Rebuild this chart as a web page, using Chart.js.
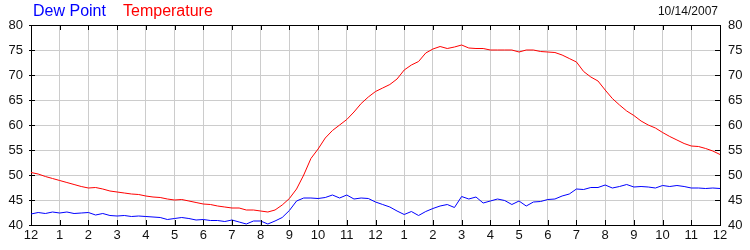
<!DOCTYPE html>
<html>
<head>
<meta charset="utf-8">
<script src="https://cdn.jsdelivr.net/npm/chart.js@4"></script>
<style>
  body { margin: 0; background: #fff; }
  #wrap { position: relative; width: 750px; height: 250px; }
  .lbl { position: absolute; font-family: "Liberation Sans", Arial, sans-serif; white-space: nowrap; }
</style>
</head>
<body>
<div id="wrap">
  <canvas id="weather-chart" width="750" height="250"></canvas>
  <span class="lbl" style="left:33px; top:2px; font-size:16px; color:#0000ff;">Dew Point</span>
  <span class="lbl" style="left:123px; top:2px; font-size:16px; color:#ff0000;">Temperature</span>
  <span class="lbl" style="right:32px; top:4px; font-size:12px; color:#111;">10/14/2007</span>
</div>
<script>
// hours since midnight, one sample every 15 minutes
const hours = [
  0, 0.25, 0.5, 0.75, 1, 1.25, 1.5, 1.75, 2, 2.25, 2.5, 2.75,
  3, 3.25, 3.5, 3.75, 4, 4.25, 4.5, 4.75, 5, 5.25, 5.5, 5.75,
  6, 6.25, 6.5, 6.75, 7, 7.25, 7.5, 7.75, 8, 8.25, 8.5, 8.75,
  9, 9.25, 9.5, 9.75, 10, 10.25, 10.5, 10.75, 11, 11.25, 11.5, 11.75,
  12, 12.25, 12.5, 12.75, 13, 13.25, 13.5, 13.75, 14, 14.25, 14.5, 14.75,
  15, 15.25, 15.5, 15.75, 16, 16.25, 16.5, 16.75, 17, 17.25, 17.5, 17.75,
  18, 18.25, 18.5, 18.75, 19, 19.25, 19.5, 19.75, 20, 20.25, 20.5, 20.75,
  21, 21.25, 21.5, 21.75, 22, 22.25, 22.5, 22.75, 23, 23.25, 23.5, 23.75, 24
];

const temperature = [
  50.5, 50.2, 49.7, 49.3, 48.9, 48.5, 48.1, 47.7, 47.4, 47.5, 47.2, 46.8,
  46.6, 46.4, 46.2, 46.1, 45.8, 45.6, 45.5, 45.2, 45.0, 45.1, 44.8, 44.5,
  44.2, 44.1, 43.8, 43.6, 43.4, 43.4, 43.0, 43.0, 42.8, 42.6, 43.0, 44.0,
  45.3, 47.2, 50.0, 53.3, 55.2, 57.4, 58.9, 60.0, 61.1, 62.6, 64.3, 65.6,
  66.7, 67.4, 68.1, 69.2, 71.0, 72.0, 72.7, 74.4, 75.2, 75.7, 75.3, 75.6,
  76.0, 75.4, 75.3, 75.3, 75.0, 75.0, 75.0, 75.0, 74.6, 75.0, 75.0, 74.7,
  74.6, 74.5, 74.0, 73.3, 72.6, 70.7, 69.6, 68.8, 67.0, 65.3, 64.0, 62.8,
  61.9, 60.8, 60.0, 59.4, 58.5, 57.7, 57.0, 56.3, 55.8, 55.7, 55.3, 54.8, 54.1
];

const dewPoint = [
  42.2, 42.5, 42.3, 42.6, 42.4, 42.6, 42.3, 42.4, 42.5, 42.0, 42.3, 41.9,
  41.8, 41.9, 41.7, 41.8, 41.7, 41.6, 41.5, 41.1, 41.3, 41.5, 41.3, 41.0,
  41.1, 40.9, 40.9, 40.7, 41.0, 40.6, 40.2, 40.8, 40.8, 40.2, 40.8, 41.5,
  42.9, 44.8, 45.4, 45.4, 45.3, 45.5, 46.0, 45.4, 46.0, 45.2, 45.4, 45.3,
  44.6, 44.1, 43.6, 42.8, 42.1, 42.7, 41.9, 42.7, 43.3, 43.8, 44.1, 43.5,
  45.7, 45.2, 45.6, 44.4, 44.8, 45.2, 44.9, 44.1, 44.8, 43.8, 44.6, 44.7,
  45.1, 45.2, 45.8, 46.2, 47.2, 47.1, 47.5, 47.5, 48.0, 47.4, 47.7, 48.1,
  47.6, 47.7, 47.6, 47.4, 47.9, 47.7, 47.9, 47.7, 47.4, 47.4, 47.3, 47.4, 47.3
];

const yMin = 40, yMax = 80, yStep = 5;

const tickFont = { family: '"Liberation Sans", Arial, sans-serif', size: 13 };
const tickColor = '#111';
const gridColor = '#cccccc';

// frame on top plus short black tick marks pointing into the plot
const frameTicks = {
    id: 'frameTicks',
    afterDraw(chart) {
        const { ctx, chartArea: a, scales } = chart;
        ctx.save();
        ctx.strokeStyle = '#000';
        ctx.lineWidth = 1;
        ctx.beginPath();
        ctx.moveTo(a.left, a.top + 0.5);
        ctx.lineTo(a.right, a.top + 0.5);
        scales.x.ticks.forEach(t => {
            const px = Math.round(scales.x.getPixelForValue(t.value)) + 0.5;
            ctx.moveTo(px, a.top);
            ctx.lineTo(px, a.top + 5);
            ctx.moveTo(px, a.bottom);
            ctx.lineTo(px, a.bottom - 5);
        });
        scales.y.ticks.forEach(t => {
            const py = Math.round(scales.y.getPixelForValue(t.value)) + 0.5;
            ctx.moveTo(a.left - 2, py);
            ctx.lineTo(a.left + 4, py);
            ctx.moveTo(a.right, py);
            ctx.lineTo(a.right - 5, py);
        });
        ctx.stroke();
        ctx.restore();
    }
};

const ctx = document.getElementById('weather-chart').getContext('2d');
new Chart(ctx, {
    type: 'line',
    data: {
        labels: hours,
        datasets: [{
            label: 'Dew Point',
            data: dewPoint,
            borderColor: '#0000ff',
            borderWidth: 1,
            pointRadius: 0,
            tension: 0
        }, {
            label: 'Temperature',
            data: temperature,
            borderColor: '#ff0000',
            borderWidth: 1,
            pointRadius: 0,
            tension: 0
        }]
    },
    options: {
        responsive: false,
        animation: false,
        layout: { padding: { top: 25, left: 0, right: 0, bottom: 0 } },
        plugins: { legend: { display: false }, tooltip: { enabled: false } },
        scales: {
            x: {
                type: 'linear',
                min: 0,
                max: 24,
                ticks: {
                    stepSize: 1,
                    autoSkip: false,
                    maxRotation: 0,
                    padding: 3,
                    font: tickFont,
                    color: tickColor,
                    callback: v => (v % 12 === 0 ? 12 : v % 12)
                },
                grid: { color: gridColor, drawTicks: false },
                border: { color: '#000' },
                afterFit: s => { s.height = 25; }
            },
            y: {
                position: 'left',
                min: yMin,
                max: yMax,
                ticks: { stepSize: yStep, padding: 8, font: tickFont, color: tickColor },
                grid: { color: gridColor, drawTicks: false },
                border: { color: '#000' },
                afterFit: s => { s.width = 31; }
            },
            y2: {
                position: 'right',
                min: yMin,
                max: yMax,
                ticks: { stepSize: yStep, padding: 8, font: tickFont, color: tickColor },
                grid: { display: false, drawTicks: false },
                border: { color: '#000' },
                afterFit: s => { s.width = 30; }
            }
        }
    },
    plugins: [frameTicks]
});
</script>
</body>
</html>
